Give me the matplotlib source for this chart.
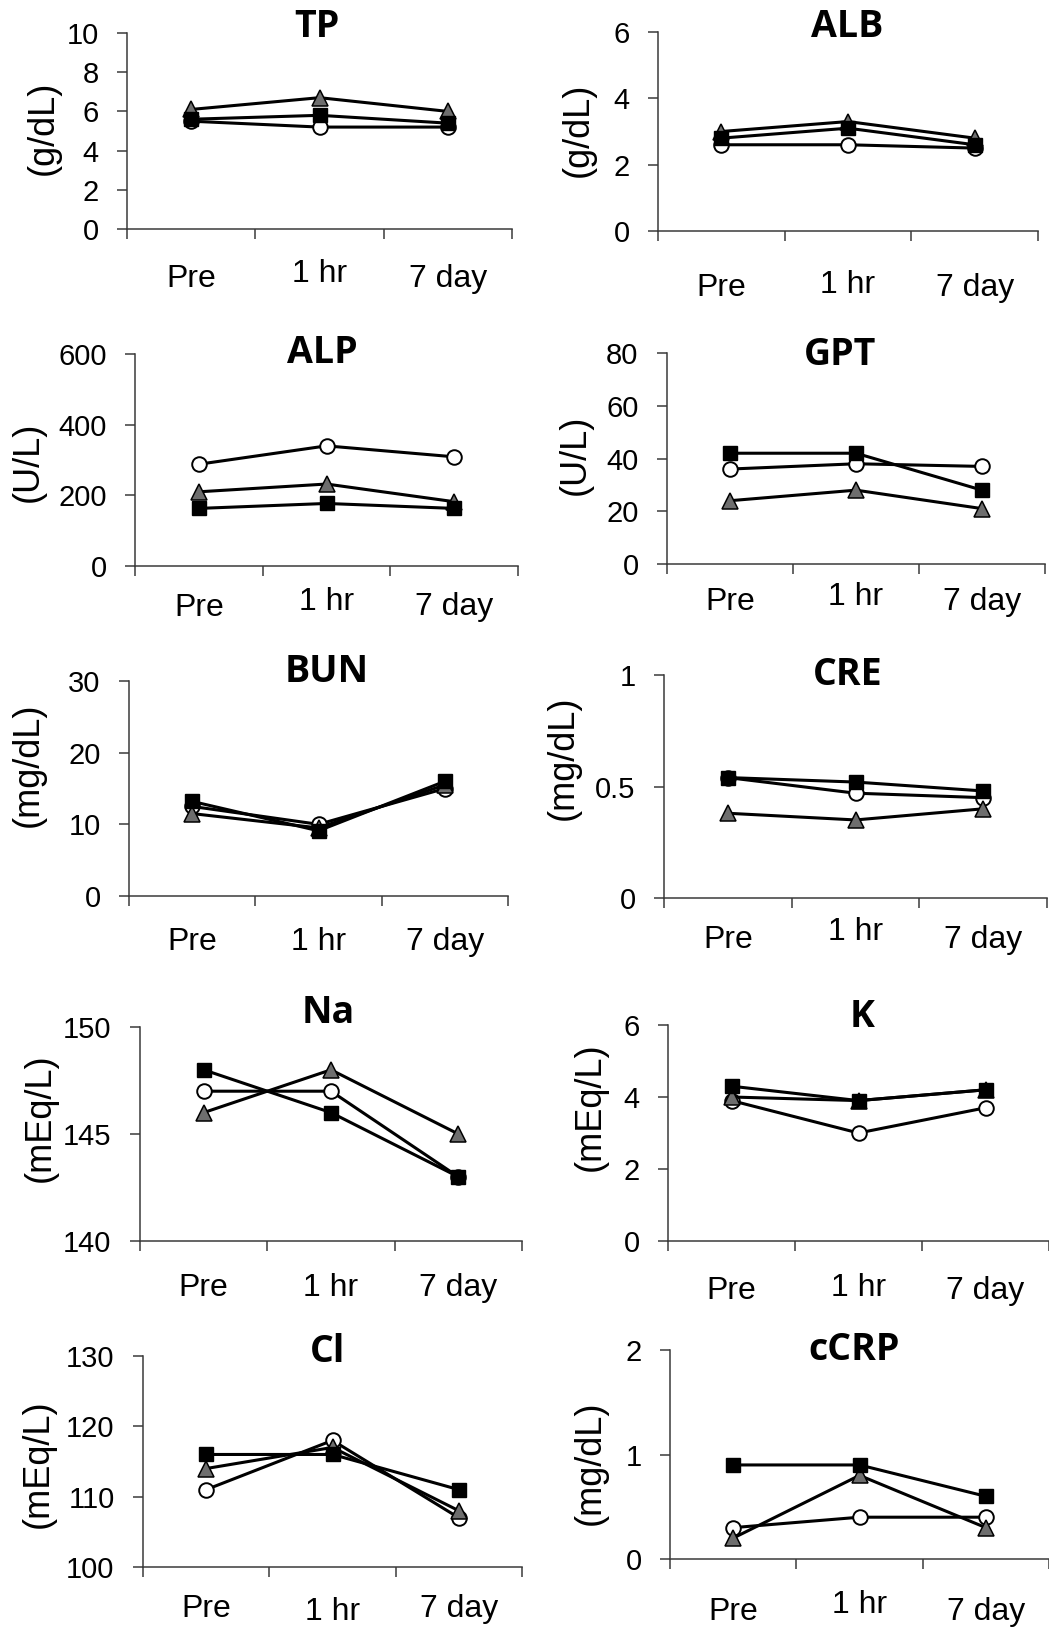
import matplotlib.pyplot as plt
from matplotlib.transforms import offset_copy

W, H = 1049, 1629
DPI = 100

time_points = ['Pre', '1 hr', '7 day']
panels = ['TP', 'ALB', 'ALP', 'GPT', 'BUN', 'CRE', 'Na', 'K', 'Cl', 'cCRP']
units = ['(g/dL)', '(g/dL)', '(U/L)', '(U/L)', '(mg/dL)', '(mg/dL)',
         '(mEq/L)', '(mEq/L)', '(mEq/L)', '(mg/dL)']

# open circle series
tp_open = [5.5, 5.2, 5.2]
alb_open = [2.6, 2.6, 2.5]
alp_open = [288, 340, 309]
gpt_open = [36, 38, 37]
bun_open = [12.5, 10.0, 15.0]
cre_open = [0.54, 0.47, 0.45]
na_open = [147, 147, 143]
k_open = [3.9, 3.0, 3.7]
cl_open = [111, 118, 107]
crp_open = [0.3, 0.4, 0.4]

# black square series
tp_black = [5.6, 5.8, 5.4]
alb_black = [2.8, 3.1, 2.6]
alp_black = [163, 177, 163]
gpt_black = [42, 42, 28]
bun_black = [13.2, 9.1, 16.0]
cre_black = [0.54, 0.52, 0.48]
na_black = [148, 146, 143]
k_black = [4.3, 3.9, 4.2]
cl_black = [116, 116, 111]
crp_black = [0.9, 0.9, 0.6]

# grey triangle series
tp_grey = [6.1, 6.7, 6.0]
alb_grey = [3.0, 3.3, 2.8]
alp_grey = [210, 232, 182]
gpt_grey = [24, 28, 21]
bun_grey = [11.5, 9.5, 15.5]
cre_grey = [0.38, 0.35, 0.40]
na_grey = [146, 148, 145]
k_grey = [4.0, 3.9, 4.2]
cl_grey = [114, 117, 108]
crp_grey = [0.2, 0.8, 0.3]

open_series = [tp_open, alb_open, alp_open, gpt_open, bun_open,
               cre_open, na_open, k_open, cl_open, crp_open]
black_series = [tp_black, alb_black, alp_black, gpt_black, bun_black,
                cre_black, na_black, k_black, cl_black, crp_black]
grey_series = [tp_grey, alb_grey, alp_grey, gpt_grey, bun_grey,
               cre_grey, na_grey, k_grey, cl_grey, crp_grey]

y_ticks = [
    [0, 2, 4, 6, 8, 10],
    [0, 2, 4, 6],
    [0, 200, 400, 600],
    [0, 20, 40, 60, 80],
    [0, 10, 20, 30],
    [0, 0.5, 1],
    [140, 145, 150],
    [0, 2, 4, 6],
    [100, 110, 120, 130],
    [0, 1, 2],
]

# layout in pixels: axes box (left, right, top, bottom), title (x, baseline),
# y label centre (x, y), category label baselines below axis
boxes = [(127, 512, 33, 229), (658, 1038, 32, 231),
         (135, 518, 354, 566), (667, 1045, 353, 564),
         (129, 508, 681, 896), (664, 1047, 675, 898),
         (140, 522, 1027, 1241), (668, 1049, 1025, 1241),
         (143, 522, 1356, 1567), (670, 1049, 1350, 1559)]
title_pos = [(317, 37), (847, 37), (322, 363), (840, 365), (327, 682),
             (848, 685), (328, 1023), (862, 1027), (328, 1362), (854, 1360)]
ylabel_pos = [(43, 128), (578, 130), (28, 462), (575, 455), (28, 765),
              (563, 758), (40, 1118), (590, 1107), (38, 1464), (590, 1463)]
label_drop = [(58, 53, 58), (65, 62, 65), (50, 44, 49), (46, 41, 46),
              (54, 54, 54), (50, 42, 50), (55, 55, 55), (58, 55, 58),
              (50, 53, 50), (61, 54, 61)]

fig = plt.figure(figsize=(W / DPI, H / DPI), dpi=DPI)
fig.patch.set_facecolor('white')

x = [1, 2, 3]
spine_col = '#3a3a3a'

for i, name in enumerate(panels):
    l, r, t, b = boxes[i]
    ax = fig.add_axes([l / W, 1 - b / H, (r - l) / W, (b - t) / H])
    ax.set_facecolor('none')

    ax.plot(x, open_series[i], '-o', color='black', lw=2.2, ms=10.5,
            mfc='white', mec='black', mew=1.4, clip_on=False, zorder=3)
    ax.plot(x, grey_series[i], '-^', color='black', lw=2.2, ms=11,
            mfc='#6e6e6e', mec='black', mew=1.1, clip_on=False, zorder=4)
    ax.plot(x, black_series[i], '-s', color='black', lw=2.2, ms=10,
            mfc='black', mec='black', mew=1.0, clip_on=False, zorder=5)

    ax.set_xlim(0.5, 3.5)
    ax.set_ylim(y_ticks[i][0], y_ticks[i][-1])
    ax.set_yticks(y_ticks[i])
    ax.set_yticklabels(['%g' % v for v in y_ticks[i]],
                       family='Liberation Sans', fontsize=21)
    ax.set_xticks([0.5, 1.5, 2.5, 3.5])
    ax.set_xticklabels([])

    for s in ['top', 'right']:
        ax.spines[s].set_visible(False)
    for s in ['left', 'bottom']:
        ax.spines[s].set_color(spine_col)
        ax.spines[s].set_linewidth(1.1)
    ax.tick_params(axis='both', direction='out', length=7.5, width=1.1,
                   color=spine_col)
    ax.tick_params(axis='y', pad=13)

    for j, lab in enumerate(time_points):
        tr = offset_copy(ax.get_xaxis_transform(), fig=fig,
                         y=-label_drop[i][j], units='dots')
        ax.text(x[j], 0, lab, transform=tr, ha='center', va='baseline',
                family='Liberation Sans', fontsize=23)

    tx, ty = title_pos[i]
    fig.text(tx / W, 1 - ty / H, name, ha='center', va='baseline',
             family='Open Sans', fontweight='bold', fontsize=27)
    lx, ly = ylabel_pos[i]
    fig.text(lx / W, 1 - ly / H, units[i], ha='center', va='center',
             rotation=90, family='Liberation Sans', fontsize=26)

fig.savefig('out.png', dpi=DPI, facecolor='white')
